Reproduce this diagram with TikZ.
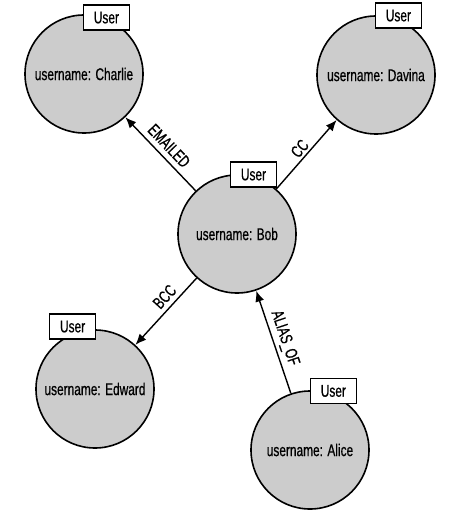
\documentclass[tikz,border=0pt]{standalone}
\usepackage{fontspec}
\setmainfont{Liberation Sans}[FakeStretch=0.7, FakeBold=0.6]
\usetikzlibrary{arrows.meta}

\begin{document}
\begin{tikzpicture}[x=1pt, y=-1pt,
  user/.style = {circle, draw, line width=1.6pt, fill=black!20, minimum size=118pt, inner sep=0pt},
  tag/.style = {rectangle, draw, line width=1.4pt, fill=white, minimum width=46pt, minimum height=25pt, inner sep=1pt},
  rel/.style = {-{Latex[length=11pt, width=9pt]}, line width=1.4pt},
  every node/.style = {font=\fontsize{17}{20}\selectfont},
  ]
  \useasboundingbox (0,0) rectangle (468,516);
  % the users
  \node[user] (charlie) at (84,74) {username: Charlie};
  \node[user] (davina) at (376,75) {username: Davina};
  \node[user] (bob) at (237,234) {username: Bob};
  \node[user] (edward) at (95,389) {username: Edward};
  \node[user] (alice) at (310,450) {username: Alice};
  % labels
  \node[tag, yshift=1pt] (charlietag) at (charlie.68) {User};
  \node[tag, yshift=4pt] (davinatag) at (davina.68) {User};
  \node[tag, yshift=2pt] (bobtag) at (bob.74) {User};
  \node[tag, yshift=7pt] (edwardtag) at (edward.112) {User};
  \node[tag, yshift=4pt] (alicetag) at (alice.67) {User};
  % relationships
  \draw[rel] (bob) -- node[sloped, above=2pt] (emailed) {EMAILED} (charlie);
  \draw[rel] (bob) -- node[sloped, above=-1pt] (cc) {CC} (davina);
  \draw[rel] (bob) -- node[pos=0.39, sloped, above=1pt] (bcc) {BCC} (edward);
  \draw[rel] (alice) -- node[sloped, above] (aliasof) {ALIAS\_OF} (bob);
\end{tikzpicture}
\end{document}
